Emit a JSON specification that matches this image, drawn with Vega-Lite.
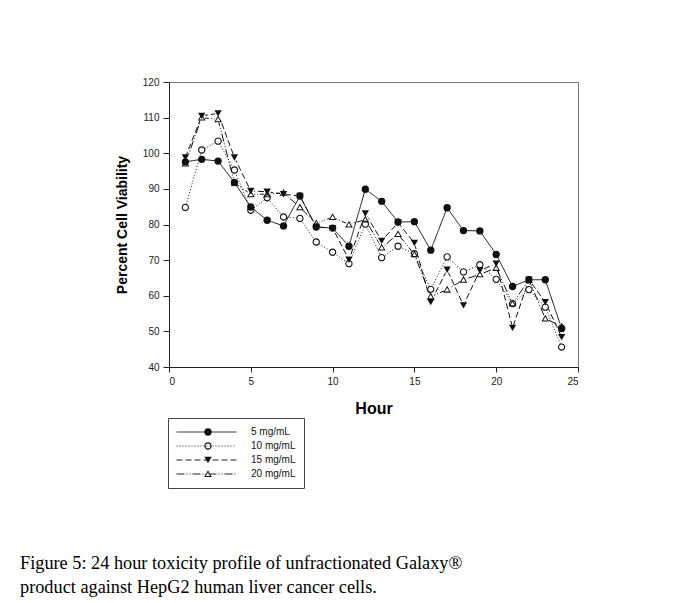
{
  "$schema": "https://vega.github.io/schema/vega-lite/v6.json",
  "autosize": "none",
  "width": 409,
  "height": 285,
  "padding": {"left": 169, "top": 82, "right": 100, "bottom": 236},
  "background": "white",
  "title": {
    "text": ["Figure 5: 24 hour toxicity profile of unfractionated Galaxy®", "product against HepG2 human liver cancer cells."],
    "orient": "bottom",
    "anchor": "start",
    "frame": "group",
    "font": "Liberation Serif",
    "fontSize": 18.3,
    "fontWeight": "normal",
    "color": "black",
    "lineHeight": 24,
    "dx": -149,
    "offset": 66
  },
  "config": {
    "view": {"stroke": "#777", "strokeWidth": 1},
    "axis": {
      "grid": false,
      "domainColor": "#222",
      "tickColor": "#222",
      "labelFont": "Liberation Sans",
      "labelFontSize": 10,
      "labelColor": "#222",
      "titleFont": "Liberation Sans",
      "titleFontWeight": "bold",
      "titleColor": "black"
    }
  },
  "data": {
    "values": [
      {"hour": 1, "series": "5 mg/mL", "dose": 5, "v": 97.6},
      {"hour": 2, "series": "5 mg/mL", "dose": 5, "v": 98.3},
      {"hour": 3, "series": "5 mg/mL", "dose": 5, "v": 97.8},
      {"hour": 4, "series": "5 mg/mL", "dose": 5, "v": 91.8},
      {"hour": 5, "series": "5 mg/mL", "dose": 5, "v": 84.9},
      {"hour": 6, "series": "5 mg/mL", "dose": 5, "v": 81.2},
      {"hour": 7, "series": "5 mg/mL", "dose": 5, "v": 79.6},
      {"hour": 8, "series": "5 mg/mL", "dose": 5, "v": 88.0},
      {"hour": 9, "series": "5 mg/mL", "dose": 5, "v": 79.3},
      {"hour": 10, "series": "5 mg/mL", "dose": 5, "v": 79.0},
      {"hour": 11, "series": "5 mg/mL", "dose": 5, "v": 73.9},
      {"hour": 12, "series": "5 mg/mL", "dose": 5, "v": 89.9},
      {"hour": 13, "series": "5 mg/mL", "dose": 5, "v": 86.5},
      {"hour": 14, "series": "5 mg/mL", "dose": 5, "v": 80.7},
      {"hour": 15, "series": "5 mg/mL", "dose": 5, "v": 80.8},
      {"hour": 16, "series": "5 mg/mL", "dose": 5, "v": 72.8},
      {"hour": 17, "series": "5 mg/mL", "dose": 5, "v": 84.7},
      {"hour": 18, "series": "5 mg/mL", "dose": 5, "v": 78.3},
      {"hour": 19, "series": "5 mg/mL", "dose": 5, "v": 78.2},
      {"hour": 20, "series": "5 mg/mL", "dose": 5, "v": 71.6},
      {"hour": 21, "series": "5 mg/mL", "dose": 5, "v": 62.6},
      {"hour": 22, "series": "5 mg/mL", "dose": 5, "v": 64.5},
      {"hour": 23, "series": "5 mg/mL", "dose": 5, "v": 64.5},
      {"hour": 24, "series": "5 mg/mL", "dose": 5, "v": 50.8},
      {"hour": 1, "series": "10 mg/mL", "dose": 10, "v": 84.8},
      {"hour": 2, "series": "10 mg/mL", "dose": 10, "v": 100.9},
      {"hour": 3, "series": "10 mg/mL", "dose": 10, "v": 103.4},
      {"hour": 4, "series": "10 mg/mL", "dose": 10, "v": 95.3},
      {"hour": 5, "series": "10 mg/mL", "dose": 10, "v": 84.0},
      {"hour": 6, "series": "10 mg/mL", "dose": 10, "v": 87.5},
      {"hour": 7, "series": "10 mg/mL", "dose": 10, "v": 82.1},
      {"hour": 8, "series": "10 mg/mL", "dose": 10, "v": 81.7},
      {"hour": 9, "series": "10 mg/mL", "dose": 10, "v": 75.1},
      {"hour": 10, "series": "10 mg/mL", "dose": 10, "v": 72.2},
      {"hour": 11, "series": "10 mg/mL", "dose": 10, "v": 69.0},
      {"hour": 12, "series": "10 mg/mL", "dose": 10, "v": 80.1},
      {"hour": 13, "series": "10 mg/mL", "dose": 10, "v": 70.7},
      {"hour": 14, "series": "10 mg/mL", "dose": 10, "v": 73.9},
      {"hour": 15, "series": "10 mg/mL", "dose": 10, "v": 71.8},
      {"hour": 16, "series": "10 mg/mL", "dose": 10, "v": 61.8},
      {"hour": 17, "series": "10 mg/mL", "dose": 10, "v": 70.9},
      {"hour": 18, "series": "10 mg/mL", "dose": 10, "v": 66.7},
      {"hour": 19, "series": "10 mg/mL", "dose": 10, "v": 68.7},
      {"hour": 20, "series": "10 mg/mL", "dose": 10, "v": 64.6},
      {"hour": 21, "series": "10 mg/mL", "dose": 10, "v": 57.8},
      {"hour": 22, "series": "10 mg/mL", "dose": 10, "v": 61.7},
      {"hour": 23, "series": "10 mg/mL", "dose": 10, "v": 56.8},
      {"hour": 24, "series": "10 mg/mL", "dose": 10, "v": 45.6},
      {"hour": 1, "series": "15 mg/mL", "dose": 15, "v": 98.8},
      {"hour": 2, "series": "15 mg/mL", "dose": 15, "v": 110.5},
      {"hour": 3, "series": "15 mg/mL", "dose": 15, "v": 111.2},
      {"hour": 4, "series": "15 mg/mL", "dose": 15, "v": 98.8},
      {"hour": 5, "series": "15 mg/mL", "dose": 15, "v": 89.4},
      {"hour": 6, "series": "15 mg/mL", "dose": 15, "v": 89.2},
      {"hour": 7, "series": "15 mg/mL", "dose": 15, "v": 88.5},
      {"hour": 8, "series": "15 mg/mL", "dose": 15, "v": 88.0},
      {"hour": 9, "series": "15 mg/mL", "dose": 15, "v": 79.3},
      {"hour": 10, "series": "15 mg/mL", "dose": 15, "v": 79.0},
      {"hour": 11, "series": "15 mg/mL", "dose": 15, "v": 70.1},
      {"hour": 12, "series": "15 mg/mL", "dose": 15, "v": 83.1},
      {"hour": 13, "series": "15 mg/mL", "dose": 15, "v": 75.4},
      {"hour": 14, "series": "15 mg/mL", "dose": 15, "v": 80.5},
      {"hour": 15, "series": "15 mg/mL", "dose": 15, "v": 74.8},
      {"hour": 16, "series": "15 mg/mL", "dose": 15, "v": 58.2},
      {"hour": 17, "series": "15 mg/mL", "dose": 15, "v": 67.3},
      {"hour": 18, "series": "15 mg/mL", "dose": 15, "v": 57.3},
      {"hour": 19, "series": "15 mg/mL", "dose": 15, "v": 67.1},
      {"hour": 20, "series": "15 mg/mL", "dose": 15, "v": 69.0},
      {"hour": 21, "series": "15 mg/mL", "dose": 15, "v": 51.0},
      {"hour": 22, "series": "15 mg/mL", "dose": 15, "v": 64.5},
      {"hour": 23, "series": "15 mg/mL", "dose": 15, "v": 58.2},
      {"hour": 24, "series": "15 mg/mL", "dose": 15, "v": 48.4},
      {"hour": 1, "series": "20 mg/mL", "dose": 20, "v": 97.1},
      {"hour": 2, "series": "20 mg/mL", "dose": 20, "v": 110.0},
      {"hour": 3, "series": "20 mg/mL", "dose": 20, "v": 109.5},
      {"hour": 4, "series": "20 mg/mL", "dose": 20, "v": 91.7},
      {"hour": 5, "series": "20 mg/mL", "dose": 20, "v": 88.5},
      {"hour": 6, "series": "20 mg/mL", "dose": 20, "v": 88.5},
      {"hour": 7, "series": "20 mg/mL", "dose": 20, "v": 88.9},
      {"hour": 8, "series": "20 mg/mL", "dose": 20, "v": 84.8},
      {"hour": 9, "series": "20 mg/mL", "dose": 20, "v": 80.3},
      {"hour": 10, "series": "20 mg/mL", "dose": 20, "v": 82.1},
      {"hour": 11, "series": "20 mg/mL", "dose": 20, "v": 80.0},
      {"hour": 12, "series": "20 mg/mL", "dose": 20, "v": 81.4},
      {"hour": 13, "series": "20 mg/mL", "dose": 20, "v": 73.5},
      {"hour": 14, "series": "20 mg/mL", "dose": 20, "v": 77.3},
      {"hour": 15, "series": "20 mg/mL", "dose": 20, "v": 71.6},
      {"hour": 16, "series": "20 mg/mL", "dose": 20, "v": 59.8},
      {"hour": 17, "series": "20 mg/mL", "dose": 20, "v": 61.7},
      {"hour": 18, "series": "20 mg/mL", "dose": 20, "v": 64.5},
      {"hour": 19, "series": "20 mg/mL", "dose": 20, "v": 66.0},
      {"hour": 20, "series": "20 mg/mL", "dose": 20, "v": 67.8},
      {"hour": 21, "series": "20 mg/mL", "dose": 20, "v": 57.8},
      {"hour": 22, "series": "20 mg/mL", "dose": 20, "v": 64.5},
      {"hour": 23, "series": "20 mg/mL", "dose": 20, "v": 53.6},
      {"hour": 24, "series": "20 mg/mL", "dose": 20, "v": 51.4}
    ]
  },
  "encoding": {
    "x": {
      "field": "hour",
      "type": "quantitative",
      "scale": {"domain": [0, 25], "nice": false, "zero": false},
      "axis": {"values": [0, 5, 10, 15, 20, 25], "tickSize": 5, "labelPadding": 4, "title": "Hour", "titleFontSize": 16, "titlePadding": 14}
    },
    "y": {
      "field": "v",
      "type": "quantitative",
      "scale": {"domain": [40, 120], "nice": false, "zero": false},
      "axis": {"values": [40, 50, 60, 70, 80, 90, 100, 110, 120], "tickSize": 6, "labelPadding": 4, "title": "Percent Cell Viability", "titleFontSize": 14, "titlePadding": 13}
    }
  },
  "layer": [
    {
      "mark": {"type": "line", "strokeWidth": 1, "color": "#111"},
      "encoding": {
        "strokeDash": {
          "field": "series",
          "type": "nominal",
          "scale": {
            "domain": ["5 mg/mL", "10 mg/mL", "15 mg/mL", "20 mg/mL"],
            "range": [[1, 0], [1, 2], [6, 3], [8, 2, 1, 2, 1, 2]]
          },
          "legend": {
            "orient": "none",
            "legendX": -1,
            "legendY": 336,
            "title": null,
            "symbolType": "stroke",
            "symbolSize": 3600,
            "symbolStrokeColor": "#222",
            "symbolStrokeWidth": 1,
            "clipHeight": 12,
            "rowPadding": 2,
            "padding": 8,
            "strokeColor": "#444",
            "labelFont": "Liberation Sans",
            "labelFontSize": 10,
            "labelColor": "#111",
            "labelOffset": 14,
            "labelLimit": 60
          }
        }
      }
    },
    {
      "mark": {"type": "point", "shape": "circle", "filled": true, "color": "white", "size": 44, "strokeWidth": 0, "opacity": 1}
    },
    {
      "mark": {"type": "point", "filled": true, "color": "#111", "size": 54, "strokeWidth": 0, "opacity": 1},
      "encoding": {
        "shape": {
          "field": "series",
          "type": "nominal",
          "sort": {"field": "dose", "op": "min"},
          "scale": {
            "range": [
              "circle",
              "M1,0A1,1 0 1,0 -1,0A1,1 0 1,0 1,0Z M0.7,0A0.7,0.7 0 1,1 -0.7,0A0.7,0.7 0 1,1 0.7,0Z",
              "triangle-down",
              "M0,-1.05L1.05,0.8L-1.05,0.8Z M0,-0.5L-0.6,0.52L0.6,0.52Z"
            ]
          },
          "legend": {
            "orient": "none",
            "legendX": -1,
            "legendY": 336,
            "title": null,
            "symbolSize": 54,
            "symbolFillColor": "#111",
            "symbolStrokeWidth": 0,
            "symbolOffset": 27,
            "clipHeight": 12,
            "rowPadding": 2,
            "padding": 8,
            "labelFont": "Liberation Sans",
            "labelFontSize": 10,
            "labelOffset": 14,
            "labelExpr": "''"
          }
        }
      }
    }
  ]
}
